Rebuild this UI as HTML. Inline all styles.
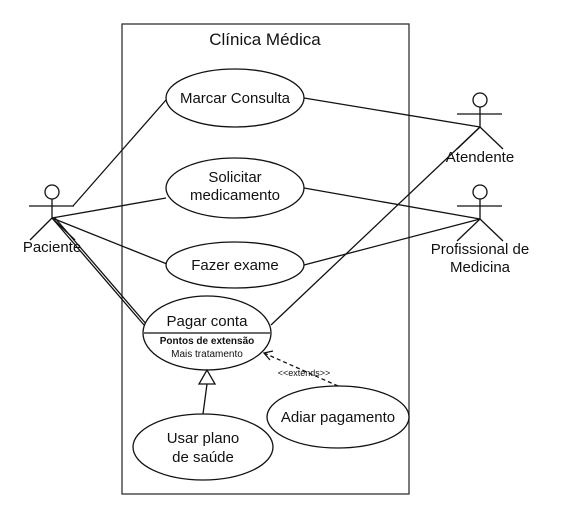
<!DOCTYPE html>
<html><head><meta charset="utf-8"><style>
html,body{margin:0;padding:0;background:#fff;}
svg{display:block;}
text{font-family:"Liberation Sans",sans-serif;fill:#111;}
</style></head><body>
<svg width="561" height="512" viewBox="0 0 561 512" xmlns="http://www.w3.org/2000/svg">
<rect x="122" y="24" width="287" height="470" fill="none" stroke="#333" stroke-width="1.3"/>
<text x="265" y="45" font-size="17" text-anchor="middle">Clínica Médica</text>
<g stroke="#111" stroke-width="1.3" fill="none">
<!-- connectors -->
<line x1="73" y1="206" x2="166" y2="100"/>
<line x1="52" y1="218" x2="166" y2="198"/>
<line x1="52" y1="218" x2="167" y2="264"/>
<line x1="52" y1="218" x2="144" y2="325"/>
<line x1="55" y1="218" x2="147" y2="325"/>
<line x1="304" y1="98" x2="480" y2="127"/>
<line x1="480" y1="127" x2="271" y2="325"/>
<line x1="304" y1="188" x2="480" y2="219"/>
<line x1="304" y1="265" x2="480" y2="219"/>
<!-- actors -->
<circle cx="52" cy="192" r="7"/>
<line x1="29" y1="206" x2="74" y2="206"/><line x1="52" y1="199" x2="52" y2="218"/>
<line x1="52" y1="218" x2="30" y2="240"/><line x1="52" y1="218" x2="75" y2="240"/>
<circle cx="480" cy="100" r="7"/>
<line x1="457" y1="114" x2="502" y2="114"/><line x1="480" y1="107" x2="480" y2="127"/>
<line x1="480" y1="127" x2="457" y2="149"/><line x1="480" y1="127" x2="503" y2="149"/>
<circle cx="480" cy="192" r="7"/>
<line x1="457" y1="206" x2="502" y2="206"/><line x1="480" y1="199" x2="480" y2="219"/>
<line x1="480" y1="219" x2="457" y2="241"/><line x1="480" y1="219" x2="503" y2="241"/>
<!-- use cases -->
<ellipse cx="235" cy="98" rx="69" ry="29" fill="#fff"/>
<ellipse cx="235" cy="188" rx="69" ry="30" fill="#fff"/>
<ellipse cx="235" cy="265" rx="69" ry="23" fill="#fff"/>
<ellipse cx="207" cy="333" rx="64" ry="37" fill="#fff"/>
<line x1="144" y1="333" x2="270" y2="333"/>
<ellipse cx="203" cy="447" rx="70" ry="33" fill="#fff"/>
<ellipse cx="338" cy="417" rx="71" ry="31" fill="#fff"/>
<!-- generalization -->
<line x1="203" y1="414" x2="207" y2="384"/>
<polygon points="207,370 199,384 215,384" fill="#fff"/>
<!-- extends -->
<line x1="338" y1="386" x2="264" y2="353" stroke-dasharray="4,3"/>
<polyline points="273,351 264,353 270,360"/>
</g>
<g font-size="15" text-anchor="middle">
<text x="235" y="103">Marcar Consulta</text>
<text x="235" y="182">Solicitar</text>
<text x="235" y="200">medicamento</text>
<text x="235" y="270">Fazer exame</text>
<text x="207" y="326">Pagar conta</text>
<text x="203" y="443">Usar plano</text>
<text x="203" y="462">de saúde</text>
<text x="338" y="422">Adiar pagamento</text>
<text x="52" y="252">Paciente</text>
<text x="480" y="162">Atendente</text>
<text x="480" y="254">Profissional de</text>
<text x="480" y="272">Medicina</text>
</g>
<text x="207" y="344" font-size="10" font-weight="bold" text-anchor="middle">Pontos de extensão</text>
<text x="207" y="357" font-size="10" text-anchor="middle">Mais tratamento</text>
<text x="304" y="376" font-size="9" text-anchor="middle" fill="#333">&lt;&lt;extends&gt;&gt;</text>
</svg>
</body></html>
